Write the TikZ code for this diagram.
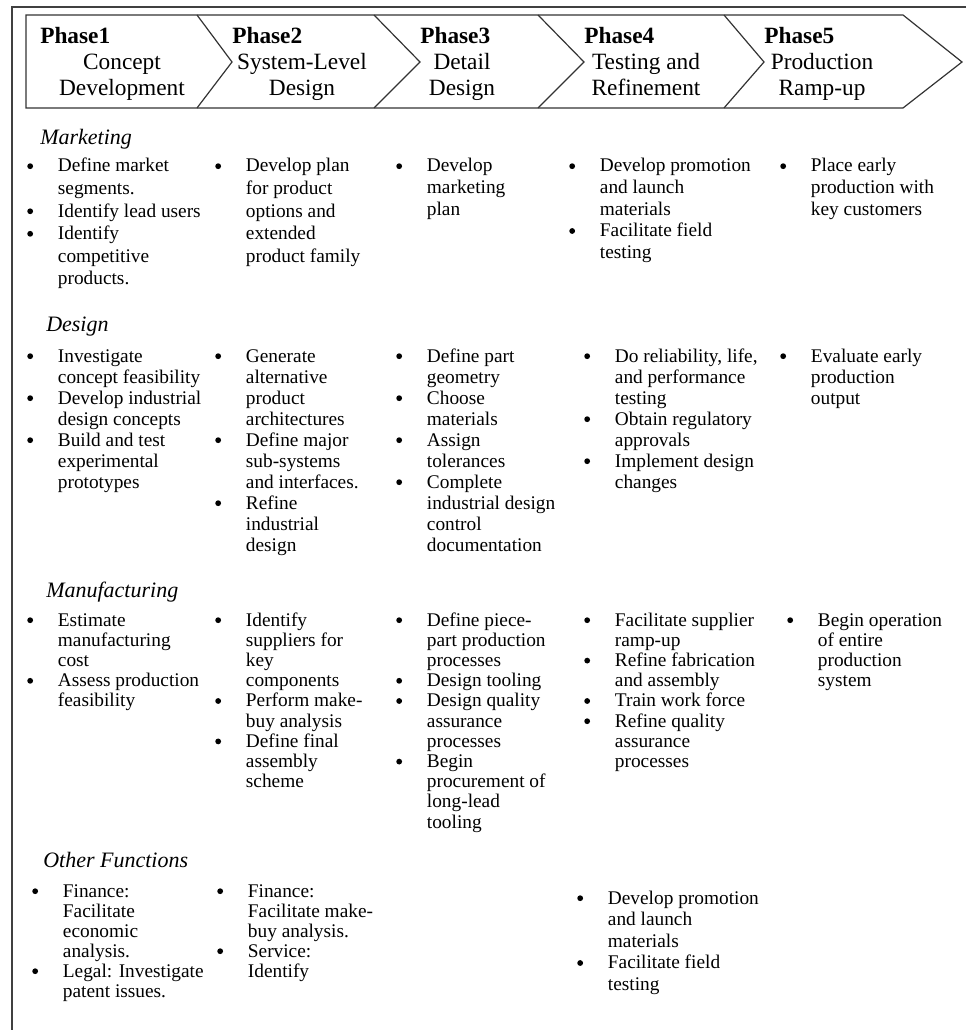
\documentclass[tikz,border=0pt]{standalone}
\usepackage{fontspec}
\setmainfont{Liberation Serif}

\newcommand{\blt}{\tikz[baseline=0pt]\fill (0.15em,0.3em) circle (0.15em);&}
\newcommand{\bcell}[1]{\begin{tabular}[t]{@{}p{23pt}@{}l@{}}#1\end{tabular}}
\newcommand{\hcell}[1]{\begin{tabular}[t]{@{}c@{}}#1\end{tabular}}

\begin{document}
\begin{tikzpicture}[x=0.75pt,y=-0.75pt,
  frame/.style={draw=black!75, line width=1.3pt},
  band/.style={draw=black!80, line width=0.9pt, line join=miter},
  phase/.style={anchor=base west, inner sep=0pt, font=\fontsize{17.5}{19.5}\selectfont\bfseries},
  stage/.style={anchor=base, inner sep=0pt, font=\fontsize{17.5}{19.5}\selectfont},
  func/.style={anchor=base west, inner sep=0pt, font=\fontsize{16.5}{18}\selectfont\itshape},
  bullets/.style={anchor=base west, inner sep=0pt, font=\fontsize{14.5}{#1}\selectfont},
  bullets/.default=15.75pt]
\useasboundingbox (0,0) rectangle (966,1030);

% outer frame
\draw[frame] (966,7) -- (12,7) -- (12,1030);

% phase band
\draw[band] (26,15) -- (903,15) -- (962,62) -- (903,108) -- (26,108) -- cycle;
\draw[band] (197,15) -- (232,62) -- (197,108);
\draw[band] (374,15) -- (420,62) -- (374,108);
\draw[band] (538,15) -- (584,62) -- (538,108);
\draw[band] (724,15) -- (764,62) -- (724,108);

\node[phase] (p1) at (40,44)  {Phase1};
\node[phase] (p2) at (232,44) {Phase2};
\node[phase] (p3) at (420,44) {Phase3};
\node[phase] (p4) at (584,44) {Phase4};
\node[phase] (p5) at (764,44) {Phase5};

\node[stage] (s1) at (122,70) {\hcell{Concept\\Development}};
\node[stage] (s2) at (302,70) {\hcell{System-Level\\Design}};
\node[stage] (s3) at (462,70) {\hcell{Detail\\Design}};
\node[stage] (s4) at (646,70) {\hcell{Testing and\\Refinement}};
\node[stage] (s5) at (822,70) {\hcell{Production\\Ramp-up}};

% marketing
\node[func] (mkt) at (40,145) {Marketing};
\node[bullets=16.9pt] (mkt1) at (27,172) {\bcell{\blt Define market\\ & segments.\\ \blt Identify lead users\\ \blt Identify\\ & competitive\\ & products.}};
\node[bullets=16.9pt] (mkt2) at (215,172) {\bcell{\blt Develop plan\\ & for product\\ & options and\\ & extended\\ & product family}};
\node[bullets=16.2pt] (mkt3) at (396,172) {\bcell{\blt Develop\\ & marketing\\ & plan}};
\node[bullets=16.2pt] (mkt4) at (569,172) {\bcell{\blt Develop promotion\\ & and launch\\ & materials\\ \blt Facilitate field\\ & testing}};
\node[bullets=16.2pt] (mkt5) at (780,172) {\bcell{\blt Place early\\ & production with\\ & key customers}};

% design
\node[func] (dsg) at (46,331) {Design};
\node[bullets] (dsg1) at (27,362) {\bcell{\blt Investigate\\ & concept feasibility\\ \blt Develop industrial\\ & design concepts\\ \blt Build and test\\ & experimental\\ & prototypes}};
\node[bullets] (dsg2) at (215,362) {\bcell{\blt Generate\\ & alternative\\ & product\\ & architectures\\ \blt Define major\\ & sub-systems\\ & and interfaces.\\ \blt Refine\\ & industrial\\ & design}};
\node[bullets] (dsg3) at (396,362) {\bcell{\blt Define part\\ & geometry\\ \blt Choose\\ & materials\\ \blt Assign\\ & tolerances\\ \blt Complete\\ & industrial design\\ & control\\ & documentation}};
\node[bullets] (dsg4) at (584,362) {\bcell{\blt Do reliability, life,\\ & and performance\\ & testing\\ \blt Obtain regulatory\\ & approvals\\ \blt Implement design\\ & changes}};
\node[bullets] (dsg5) at (780,362) {\bcell{\blt Evaluate early\\ & production\\ & output}};

% manufacturing
\node[func] (mfg) at (46,597) {Manufacturing};
\node[bullets=15.15pt] (mfg1) at (27,626) {\bcell{\blt Estimate\\ & manufacturing\\ & cost\\ \blt Assess production\\ & feasibility}};
\node[bullets=15.15pt] (mfg2) at (215,626) {\bcell{\blt Identify\\ & suppliers for\\ & key\\ & components\\ \blt Perform make-\\ & buy analysis\\ \blt Define final\\ & assembly\\ & scheme}};
\node[bullets=15.15pt] (mfg3) at (396,626) {\bcell{\blt Define piece-\\ & part production\\ & processes\\ \blt Design tooling\\ \blt Design quality\\ & assurance\\ & processes\\ \blt Begin\\ & procurement of\\ & long-lead\\ & tooling}};
\node[bullets=15.15pt] (mfg4) at (584,626) {\bcell{\blt Facilitate supplier\\ & ramp-up\\ \blt Refine fabrication\\ & and assembly\\ \blt Train work force\\ \blt Refine quality\\ & assurance\\ & processes}};
\node[bullets=15.15pt] (mfg5) at (787,626) {\bcell{\blt Begin operation\\ & of entire\\ & production\\ & system}};

% other functions
\node[func] (oth) at (43,867) {Other Functions};
\node[bullets=15pt] (oth1) at (32,897) {\bcell{\blt Finance:\\ & Facilitate\\ & economic\\ & analysis.\\ \blt Legal: Investigate\\ & patent issues.}};
\node[bullets=15pt] (oth2) at (217,897) {\bcell{\blt Finance:\\ & Facilitate make-\\ & buy analysis.\\ \blt Service:\\ & Identify}};
\node[bullets=16.2pt] (oth4) at (577,904) {\bcell{\blt Develop promotion\\ & and launch\\ & materials\\ \blt Facilitate field\\ & testing}};

\end{tikzpicture}
\end{document}
